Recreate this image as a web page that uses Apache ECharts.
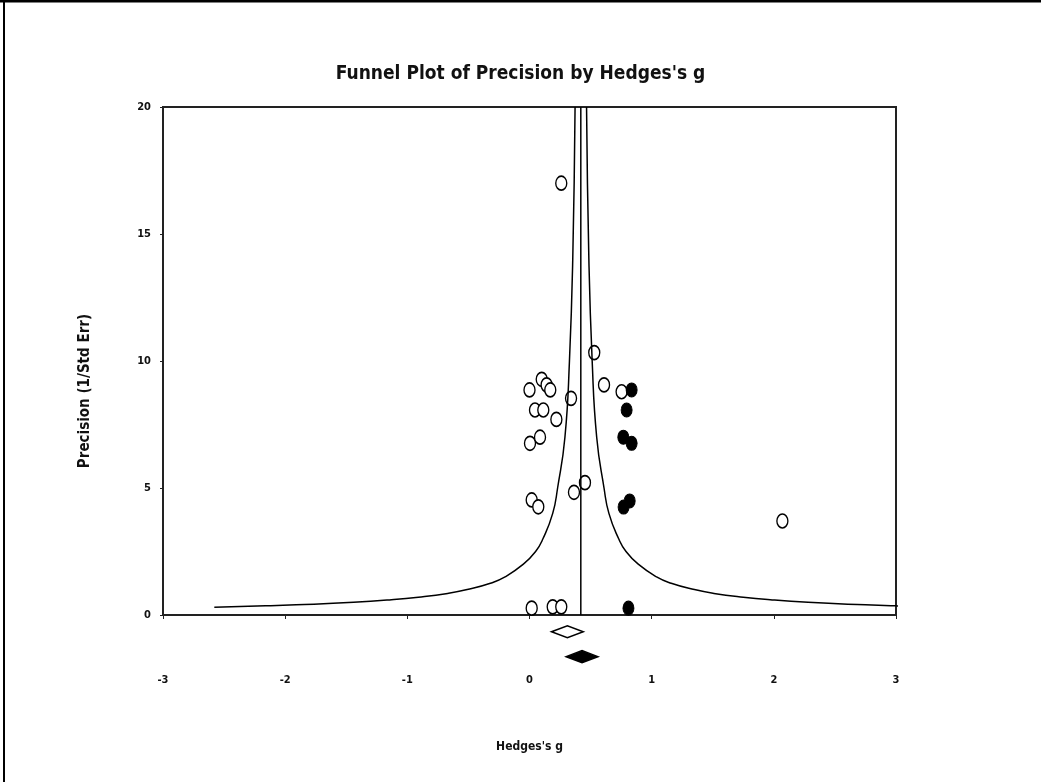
<!DOCTYPE html>
<html>
<head>
<meta charset="utf-8">
<title>Funnel Plot of Precision by Hedges's g</title>
<script src="https://cdn.jsdelivr.net/npm/echarts@6/dist/echarts.min.js"></script>
<style>
  html, body { margin: 0; padding: 0; background: #fff; }
  #chart { width: 1041px; height: 782px; }
</style>
</head>
<body>
<div id="chart"></div>
<script>
// observed studies (hollow)
const observedG = [0.26, 0.53, 0.61, 0.00, 0.10, 0.14, 0.17, 0.34, 0.045, 0.113, 0.22, 0.004, 0.086, 0.018, 0.072, 0.364, 0.454, 2.07, 0.018, 0.19, 0.26, 0.754];
const observedP = [17.0, 10.33, 9.06, 8.86, 9.28, 9.06, 8.86, 8.53, 8.07, 8.07, 7.7, 6.76, 7.0, 4.53, 4.26, 4.83, 5.21, 3.7, 0.27, 0.32, 0.32, 8.79];
// imputed studies (filled)
const imputedG = [0.836, 0.795, 0.768, 0.836, 0.77, 0.82, 0.81];
const imputedP = [8.86, 8.07, 7.0, 6.76, 4.25, 4.49, 0.27];
// combined effects: [center, low, high, level]
const observedDiamond = [0.31, 0.18, 0.44, -0.66];
const adjustedDiamond = [0.43, 0.3, 0.56, -1.64];
const meanG = 0.42;
// funnel half widths
const funnelP = [0.31, 0.36, 0.4, 0.5, 0.6, 0.7, 0.85, 1, 1.25, 1.5, 2, 2.5, 3, 4, 5, 7, 10, 14, 20];
const funnelHalf = [3.0, 2.58, 2.33, 1.86, 1.55, 1.33, 1.09, 0.93, 0.74, 0.62, 0.47, 0.37, 0.31, 0.23, 0.19, 0.13, 0.093, 0.066, 0.047];
const xTicks = [-3, 3, 1];
const yTicks = [0, 20, 5];

const font = '"Liberation Sans Narrow", "DejaVu Sans Condensed", "Liberation Sans", sans-serif';

const chart = echarts.init(document.getElementById("chart"));

function diamond(d, filled) {
  return {
    type: "custom",
    silent: true,
    data: [d],
    renderItem: function (params, api) {
      const c = api.coord([api.value(0), api.value(3)]);
      const l = api.coord([api.value(1), api.value(3)]);
      const r = api.coord([api.value(2), api.value(3)]);
      const h = 6;
      return {
        type: "polygon",
        shape: { points: [[l[0], c[1]], [c[0], c[1] - h], [r[0], c[1]], [c[0], c[1] + h]] },
        style: { fill: filled ? "#000" : "#fff", stroke: "#000", lineWidth: 1.5 },
      };
    },
  };
}

chart.setOption({
  animation: false,
  backgroundColor: "#fff",
  title: {
    text: "Funnel Plot of Precision by Hedges's g",
    left: "center",
    top: 60,
    textStyle: { fontFamily: font, fontSize: 19, fontWeight: "bold", color: "#111" },
  },
  graphic: [
    { type: "line", shape: { x1: 0, y1: 1, x2: 1041, y2: 1 }, style: { stroke: "#000", lineWidth: 3 } },
    { type: "line", shape: { x1: 4, y1: 0, x2: 4, y2: 782 }, style: { stroke: "#000", lineWidth: 2 } },
  ],
  grid: {
    left: 163,
    right: 145,
    top: 107,
    bottom: 167,
    show: true,
    borderColor: "#222",
    borderWidth: 2,
  },
  xAxis: {
    type: "value",
    min: xTicks[0],
    max: xTicks[1],
    interval: xTicks[2],
    name: "Hedges's g",
    nameLocation: "middle",
    nameGap: 126,
    nameTextStyle: { fontFamily: font, fontSize: 12, fontWeight: "bold", color: "#111" },
    axisLine: { onZero: false, lineStyle: { color: "#222", width: 2 } },
    axisTick: { length: 4, lineStyle: { color: "#222" } },
    axisLabel: { margin: 60, fontFamily: font, fontSize: 11, fontWeight: "bold", color: "#111" },
    splitLine: { show: false },
  },
  yAxis: {
    type: "value",
    min: yTicks[0],
    max: yTicks[1],
    interval: yTicks[2],
    name: "Precision (1/Std Err)",
    nameLocation: "middle",
    nameGap: 70,
    nameTextStyle: { fontFamily: font, fontSize: 15, fontWeight: "bold", color: "#111", padding: [0, 60, 0, 0] },
    axisLine: { onZero: false, lineStyle: { color: "#222", width: 2 } },
    axisTick: { length: 3, lineStyle: { color: "#222" } },
    axisLabel: { margin: 12, fontFamily: font, fontSize: 11, fontWeight: "bold", color: "#111" },
    splitLine: { show: false },
  },
  series: [
    {
      name: "funnel left",
      type: "line",
      smooth: true,
      showSymbol: false,
      silent: true,
      lineStyle: { color: "#000", width: 1.5 },
      data: funnelP.map((p, i) => [meanG - funnelHalf[i], p]),
    },
    {
      name: "funnel right",
      type: "line",
      smooth: true,
      showSymbol: false,
      silent: true,
      lineStyle: { color: "#000", width: 1.5 },
      data: funnelP.map((p, i) => [meanG + funnelHalf[i], p]),
    },
    {
      name: "mean",
      type: "line",
      showSymbol: false,
      silent: true,
      lineStyle: { color: "#000", width: 1.5 },
      data: [[meanG, yTicks[0]], [meanG, yTicks[1]]],
    },
    {
      name: "observed",
      type: "scatter",
      symbol: "circle",
      symbolSize: [11, 14],
      itemStyle: { color: "#fff", borderColor: "#000", borderWidth: 1.5, opacity: 1 },
      data: observedG.map((g, i) => [g, observedP[i]]),
    },
    {
      name: "imputed",
      type: "scatter",
      symbol: "circle",
      symbolSize: [11, 14],
      itemStyle: { color: "#000", borderColor: "#000", borderWidth: 1, opacity: 1 },
      data: imputedG.map((g, i) => [g, imputedP[i]]),
    },
    diamond(observedDiamond, false),
    diamond(adjustedDiamond, true),
  ],
});
</script>
</body>
</html>
